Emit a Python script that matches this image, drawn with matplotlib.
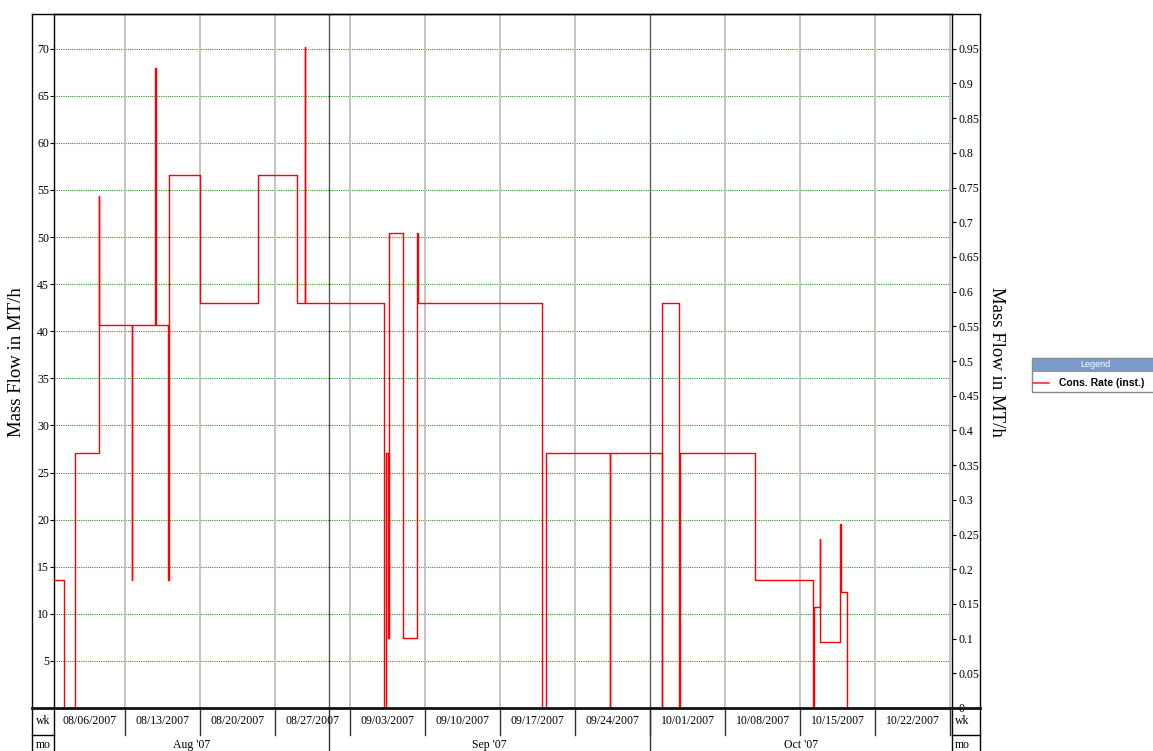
import matplotlib
matplotlib.use("Agg")
import matplotlib.pyplot as plt
import matplotlib.dates as mdates
from matplotlib.lines import Line2D
from matplotlib.patches import Rectangle
import numpy as np
from datetime import datetime, timedelta

# ---------------- data ----------------
base_date = datetime(2007, 8, 1)
# step change times, in days after 2007-08-01
change_day = [5.37, 6.33, 7.33, 9.57, 9.60, 12.65, 12.68, 14.84, 14.87, 16.03,
              16.06, 18.99, 24.38, 28.02, 28.79, 28.82, 36.21, 36.31, 36.57, 36.60,
              37.94, 39.28, 39.37, 50.94, 51.32, 57.23, 57.26, 62.09, 62.12, 63.73,
              63.80, 70.79, 76.24, 76.27, 76.83, 76.86, 78.75, 78.78, 79.41, 89.18]
mass_flow = [13.6, 0, 27.1, 54.4, 40.7, 13.6, 40.7, 67.9, 40.7, 13.6,
             56.6, 43.0, 56.6, 43.0, 70.2, 43.0, 0, 27.1, 7.4, 50.4,
             7.4, 50.4, 43.0, 0, 27.1, 0, 27.1, 0, 43.0, 0,
             27.1, 13.6, 0, 10.7, 17.9, 7.0, 19.5, 12.3, 0, 0]
week_starts = ["2007-08-06", "2007-08-13", "2007-08-20", "2007-08-27", "2007-09-03",
               "2007-09-10", "2007-09-17", "2007-09-24", "2007-10-01", "2007-10-08",
               "2007-10-15", "2007-10-22", "2007-10-29"]
week_labels = ["08/06/2007", "08/13/2007", "08/20/2007", "08/27/2007", "09/03/2007",
               "09/10/2007", "09/17/2007", "09/24/2007", "10/01/2007", "10/08/2007",
               "10/15/2007", "10/22/2007"]
month_starts = ["2007-08-01", "2007-09-01", "2007-10-01", "2007-11-01"]
month_labels = ["Aug '07", "Sep '07", "Oct '07"]
left_ticks = [5, 10, 15, 20, 25, 30, 35, 40, 45, 50, 55, 60, 65, 70]
right_ticks = [0, 0.05, 0.1, 0.15, 0.2, 0.25, 0.3, 0.35, 0.4, 0.45, 0.5,
               0.55, 0.6, 0.65, 0.7, 0.75, 0.8, 0.85, 0.9, 0.95]
x_start_day, x_end_day = 5.37, 89.18
y_left_max, y_right_max = 73.68, 1.0
series_name = "Cons. Rate (inst.)"
axis_title = "Mass Flow in MT/h"

# ---------------- setup ----------------
W, H = 1153, 751
DPI = 100
SERIF = ["Liberation Serif", "DejaVu Serif"]
SANS = ["Liberation Sans", "DejaVu Sans"]
plt.rcParams['font.family'] = SERIF

fig = plt.figure(figsize=(W / DPI, H / DPI), dpi=DPI)


def fx(x):
    return x / W


def fy(y):
    return 1 - y / H


def d2n(day):
    return mdates.date2num(base_date + timedelta(days=day))


x0, x1 = d2n(x_start_day), d2n(x_end_day)
wk_nums = [mdates.datestr2num(s) for s in week_starts]
mo_nums = [mdates.datestr2num(s) for s in month_starts]

L, R, T, B = 54, 952, 14, 708
ax = fig.add_axes([fx(L), fy(B), (R - L) / W, (B - T) / H])
ax.set_xlim(x0, x1)
ax.set_ylim(0, y_left_max)

# grid
for v in left_ticks:
    ax.axhline(v, color="#2a9a2a", lw=0.8, ls=(0, (1, 1)), zorder=1)
for n in wk_nums:
    if n in mo_nums:
        continue
    ax.axvline(n, color="#c4c4c4", lw=1.4, zorder=1)
for n in mo_nums:
    ax.axvline(n, color="#5a5a5a", lw=1.0, zorder=1)

times = [d2n(d) for d in change_day]
ax.plot(times, mass_flow, drawstyle="steps-post", color="#ff0000", lw=1.0, zorder=3)

ax.set_xticks([])
ax.set_yticks(left_ticks)
ax.set_yticklabels([str(v) for v in left_ticks], fontsize=8.5)
ax.tick_params(axis="y", direction="out", length=3, width=0.8, pad=0.5, colors="black")
for s in ax.spines.values():
    s.set_color("black")
    s.set_linewidth(1.0)
ax.spines["bottom"].set_visible(False)

ax2 = ax.twinx()
ax2.set_ylim(0, y_right_max)
ax2.set_yticks(right_ticks)
ax2.set_yticklabels(["%g" % v for v in right_ticks], fontsize=8.5)
ax2.tick_params(axis="y", direction="out", length=3, width=0.8, pad=1.5, colors="black")
for s in ax2.spines.values():
    s.set_visible(False)

# ---------------- bottom bands (wk / mo) ----------------
band = fig.add_axes([fx(L), fy(765), (R - L) / W, (765 - B) / H])
band.set_xlim(x0, x1)
band.set_ylim(0, 765 - B)
band.axis("off")
wk_top, wk_bot = 765 - B, 765 - 735
for n in wk_nums:
    if x0 < n < x1:
        band.plot([n, n], [wk_bot, wk_top], color="#333333", lw=1.0, clip_on=False)
for n in mo_nums:
    if x0 < n < x1:
        band.plot([n, n], [0, wk_top], color="#333333", lw=1.0, clip_on=False)
for i, lab in enumerate(week_labels):
    a, b = max(wk_nums[i], x0), min(wk_nums[i + 1], x1)
    band.text((a + b) / 2, (wk_top + wk_bot) / 2, lab, ha="center", va="center", fontsize=8.5)
for i, lab in enumerate(month_labels):
    a, b = max(mo_nums[i], x0), min(mo_nums[i + 1], x1)
    band.text((a + b) / 2, 765 - 745, lab, ha="center", va="center", fontsize=8.5)

# ---------------- frame lines ----------------
def fline(xa, ya, xb, yb, lw=1.0, color="black"):
    fig.add_artist(Line2D([fx(xa), fx(xb)], [fy(ya), fy(yb)], lw=lw, color=color,
                          transform=fig.transFigure))


fline(32, T, 980, T)
fline(32, T, 32, 751)
fline(980, T, 980, 751)
fline(L, B, L, 751)
fline(R, B, R, 751)
fline(32, B, 980, B, lw=2.0, color="#111111")
fline(32, 735, L, 735)
fline(R, 735, 980, 735)

fig.text(fx(43), fy(721), "wk", ha="center", va="center", fontsize=8.5)
fig.text(fx(43), fy(745), "mo", ha="center", va="center", fontsize=8.5)
fig.text(fx(955), fy(721), "wk", ha="left", va="center", fontsize=8.5)
fig.text(fx(955), fy(745), "mo", ha="left", va="center", fontsize=8.5)

fig.text(fx(17), fy(362), axis_title, rotation=90, ha="center", va="center", fontsize=13.5)
fig.text(fx(997), fy(362), axis_title, rotation=-90, ha="center", va="center", fontsize=13.5)

# ---------------- legend ----------------
fig.add_artist(Rectangle((fx(1032), fy(392)), fx(126), 34 / H, transform=fig.transFigure,
                         facecolor="white", edgecolor="#8a8a8a", lw=1.0))
fig.add_artist(Rectangle((fx(1032), fy(371)), fx(126), 13 / H, transform=fig.transFigure,
                         facecolor="#7b9bcb", edgecolor="#8a8a8a", lw=0.6))
fig.text(fx(1095), fy(365), "Legend", ha="center", va="center", fontsize=6.5,
         color="white", family=SANS)
fline(1033, 383, 1049, 383, lw=1.2, color="#ff3030")
fig.text(fx(1059), fy(383), series_name, ha="left", va="center", fontsize=7.5,
         fontweight="bold", family=SANS)

fig.savefig("out.png", dpi=DPI)
